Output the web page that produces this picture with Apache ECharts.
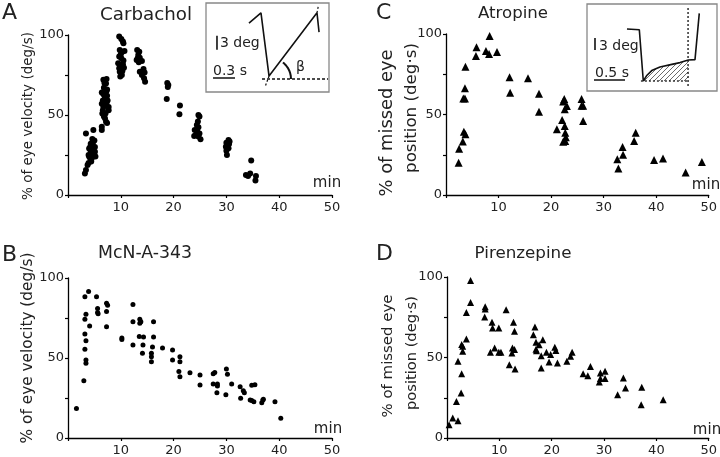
<!DOCTYPE html>
<html><head><meta charset="utf-8">
<script src="https://cdn.jsdelivr.net/npm/echarts/dist/echarts.min.js"></script>
<style>html,body{margin:0;padding:0;background:#fff}#c{width:720px;height:457px}</style>
</head><body><div id="c"></div><script>
// ---------- data ----------
const carbachol = [
 [3.2,13.5],[3.4,15.6],[3.7,18.7],[3.9,20],[3.4,38.5],[3.9,25],[4.0,24],[4.2,30],[4.3,27],[4.5,29],[4.7,32],[4.8,28],[4.9,25],[4.5,23],[5.1,30],[5.0,34],[4.8,40.6],[4.2,23],[4.7,26],[5.1,27],[4.3,32],[4.0,29],[4.6,35],[5.2,24],[4.4,21],
 [6.4,40.6],[6.4,42.7],[7.2,45.8],[7.4,45],[6.8,49],[7.1,51],[7.7,53],[6.7,55],[7.3,57],[6.6,59],[7.2,60],[7.4,62],[6.7,63],[7.3,65],[6.8,67],[7.2,69.7],[6.7,72],[7.3,72.5],[6.4,64],[7.0,48],[7.7,55],[6.6,53],[7.4,66],[6.4,57],[7.0,61],[6.9,70],[7.5,59],[6.5,51],
 [9.7,99],[10.1,97.5],[10.4,96],[10.5,94.8],[9.8,90.6],[10.3,89.6],[10.7,90],[9.7,86.5],[10.1,85.4],[9.5,82.3],[9.9,81.3],[10.4,81.7],[10.2,80.2],[9.7,79.2],[10.6,79.6],[9.8,77],[10.3,77.5],[9.9,74],[10.2,75],[10.0,88],[10.5,84],
 [13.1,90.6],[13.5,89.6],[13.3,87.5],[13.6,85.8],[13.0,84.4],[13.4,83],[14.0,83.8],[14.3,78.8],[13.6,77],[14.0,75],[14.4,73],[14.6,70.8],[13.2,85.4],[14.5,76.5],
 [18.8,70],[19.0,68.8],[18.9,67.5],[18.7,60],
 [21.2,56],[21.1,50.5],
 [24.7,50],[24.9,49],[24.4,43.8],[24.7,42.3],[24.0,40.6],[24.5,39.6],[24.9,38.5],[23.9,36.9],[24.7,36.5],[25.1,34.8],[24.2,37.5],[24.6,46],
 [30.4,34.4],[30.0,32.7],[30.5,31.9],[29.9,30.2],[30.4,29.2],[30.0,27.7],[30.1,25],[30.6,33.5],
 [34.7,21.5],[33.7,12.5],[34.1,11.9],[34.5,13.5],[35.6,11.9],[35.5,9]
];
const mcnA343 = [
 [1.6,18.5],[3.2,88.3],[3.9,91.5],[3.2,74.2],[3.4,77.3],[4.1,70],[3.2,65],[3.4,60.8],[3.2,55.4],[3.4,48.8],[3.4,46.7],[3.0,35.8],
 [5.4,88.3],[5.6,81],[5.6,78.5],[5.7,77.7],[7.3,84.2],[7.5,83],[7.3,79],[7.3,69.6],
 [10.2,62.5],[10.2,61.5],[12.3,83.5],[12.3,72.7],[12.3,58.1],[13.6,74.2],[13.6,71.7],[13.8,72.7],[13.5,63.5],[14.3,63.1],[14.2,58.1],[14.1,52.9],
 [16.2,72.7],[16.2,63.1],[16.0,56.9],[15.8,52.9],[15.8,50.8],[15.8,47.7],[17.9,56.3],[19.8,55],[19.8,48.8],
 [21.2,50.8],[21.2,47.7],[21.0,41.5],[21.2,38.3],[23.1,40.8],[25.0,39.4],[25.0,33.1],
 [27.5,40.2],[27.8,41],[27.5,33.8],[28.3,33.8],[28.3,32.5],[28.2,28.3],[30.0,43.1],[30.2,39.9],[29.9,27],[31.0,33.8],
 [32.6,32.1],[33.2,29.6],[33.4,28.3],[32.7,24.8],[34.8,32.9],[35.4,33.3],[34.5,23.8],[34.8,23.4],[35.2,22.7],
 [36.9,23.8],[36.7,22.1],[37.0,24.2],[39.2,22.7],[40.3,12.3]
];
const atropine = [
 [2.4,20.1],[2.5,28.8],[3.2,33.3],[3.4,39.3],[3.7,37.8],[3.3,60],[3.6,60],[3.6,66.3],[3.7,79.7],
 [5.7,86.3],[5.8,91.7],[7.6,89.5],[8.3,98.8],[8.2,87.6],[9.7,88.8],
 [12.1,73.1],[12.2,63.5],[15.6,72.5],[17.7,62.9],[17.7,51.7],
 [21.1,40.8],[22.1,46.6],[22.5,59.6],[22.3,58],[23.0,55.3],[22.6,53.2],[22.6,42.9],[22.7,38.7],[22.8,35.8],[22.3,33.1],[22.7,33.5],
 [25.8,59.6],[25.8,55.5],[26.1,55.5],[26.1,46],
 [32.6,22.2],[32.8,16.4],[33.6,29.8],[33.7,25],[35.8,33.5],[36.1,38.6],
 [39.6,21.8],[41.3,22.6],[45.6,13.9],[48.7,20.5]
];
const pirenzepine = [
 [0.4,8.3],[1.1,12.4],[2.1,10.7],[1.8,22.7],[2.1,47.6],[2.7,27.9],[2.8,39.9],[2.8,58],[3.0,57],[3.0,53.9],[3.7,61.5],[3.7,78],[4.5,97.9],[4.5,84.2],
 [7.3,81.5],[7.3,80.2],[7.2,75.1],[8.6,71.9],[8.7,68.4],[9.9,68.4],[8.3,53.2],[9.1,55.9],[9.9,53.2],[10.3,53.2],
 [11.3,79.7],[11.9,45.5],[12.7,71.9],[12.9,66.3],[12.5,55.9],[12.9,54.9],[12.4,52.8],[13.0,42.9],
 [16.5,64.2],[16.8,68.9],[17.0,59.4],[17.0,55.2],[17.1,54.2],[17.6,57.9],[18.3,61],[18.0,51.1],[18.0,43.5],
 [19.0,53.2],[19.8,51.8],[19.5,47.2],[20.6,56.3],[20.8,54.4],[21.1,46.6],[22.9,47.6],[23.6,50.7],[23.9,53.2],
 [26.0,39.9],[26.9,38.6],[27.4,44.4],[29.3,40.3],[29.1,34.8],[29.3,36.9],[30.2,41.4],[30.2,36.9],
 [32.6,26.9],[33.7,37.3],[34.1,31.1],[37.1,20.7],[37.2,31.5],[41.3,23.8]
];
const xTicks = [0,10,20,30,40,50];
const yTicks = [0,25,50,75,100];
const xTickLabels = ['', '10', '20', '30', '40', '50'];
const yTickLabels = ['0', '', '50', '', '100'];
const titles = ['Carbachol', 'McN-A-343', 'Atropine', 'Pirenzepine'];
const panelLetters = ['A', 'B', 'C', 'D'];

// inset A: eye trace (time s, position deg)
const insetATrace = [[0.587,14.7],[0.751,16.9],[0.861,3.4],[1.516,16.9],[1.544,12.8]];
const insetAExtLow = [[0.861,3.4],[0.806,1.07]];
const insetAExtHigh = [[1.516,16.9],[1.535,18.4]];
const insetABaseline = [[0.765,2.78],[1.667,2.78]];
const insetAScaleDeg = [[0.15,9.0],[0.15,12.0]];
const insetAScaleSec = [[0.096,3.0],[0.396,3.0]];
// inset C
const insetCTrace = [[0.645,15.5],[0.844,15.3],[0.908,2.5],[0.96,3.8],[1.044,5.1],[1.177,6.0],[1.35,6.6],[1.5,7.1],[1.634,7.75],[1.742,7.85],[1.811,19.4]];
const insetCHatch = [[0.908,2.5],[0.96,3.8],[1.044,5.1],[1.177,6.0],[1.35,6.6],[1.5,7.1],[1.634,7.75]];
const insetCVertical = [[1.63,20.75],[1.63,0.75]];
const insetCBaseline = [[0.87,2.5],[1.63,2.5]];
const insetCScaleDeg = [[0.129,10.25],[0.129,13.25]];
const insetCScaleSec = [[0.113,2.75],[0.613,2.75]];

// ---------- helpers ----------
const F = 'DejaVu Sans';
const mctx = document.createElement('canvas').getContext('2d');
function fit(text, target) { mctx.font = '100px "' + F + '"'; return 100 * target / mctx.measureText(text).width; }

const hatch = document.createElement('canvas');
hatch.width = 5; hatch.height = 5;
(function(){ const c = hatch.getContext('2d'); c.strokeStyle = '#444'; c.lineWidth = 0.8;
  c.beginPath(); c.moveTo(-1,6); c.lineTo(6,-1); c.stroke(); })();

const grids = [
  {left:68, top:35, width:264, height:160},
  {left:68, top:278, width:264, height:160},
  {left:446, top:34, width:264, height:161},
  {left:447, top:277, width:264, height:161},
  {left:206, top:3, width:123, height:89, show:true, borderColor:'#888', borderWidth:1.3, backgroundColor:'#fff'},
  {left:587, top:4, width:130, height:87, show:true, borderColor:'#888', borderWidth:1.3, backgroundColor:'#fff'}
];
const axLine = {show:true, lineStyle:{color:'#000', width:1.3}};
const xAxes = [], yAxes = [];
for (let i = 0; i < 4; i++) {
  xAxes.push({gridIndex:i, type:'value', min:xTicks[0], max:xTicks[xTicks.length-1], interval:xTicks[1]-xTicks[0],
    axisLine:axLine, axisTick:{show:true, length:3, lineStyle:{color:'#000', width:1.2}},
    axisLabel:{fontSize:13, fontFamily:F, color:'#222', margin:6, formatter:v => xTickLabels[xTicks.indexOf(v)] || ''},
    splitLine:{show:false}});
  yAxes.push({gridIndex:i, type:'value', min:yTicks[0], max:yTicks[yTicks.length-1], interval:yTicks[1]-yTicks[0],
    axisLine:axLine, axisTick:{show:true, length:3, lineStyle:{color:'#000', width:1.2}},
    axisLabel:{fontSize:13, fontFamily:F, color:'#222', margin:4, formatter:v => yTickLabels[yTicks.indexOf(v)] || ''},
    splitLine:{show:false}});
}
xAxes.push({gridIndex:4, type:'value', min:0, max:1.68, show:false});
yAxes.push({gridIndex:4, type:'value', min:0, max:19, show:false});
xAxes.push({gridIndex:5, type:'value', min:0, max:2.097, show:false});
yAxes.push({gridIndex:5, type:'value', min:0, max:21.75, show:false});

function sc(i, data, symbol, size) {
  return {type:'scatter', xAxisIndex:i, yAxisIndex:i, data, symbol, symbolSize:size,
    itemStyle:{color:'#000', opacity:1}, silent:true};
}
function ln(i, data, width, dash, extra) {
  return Object.assign({type:'line', xAxisIndex:i, yAxisIndex:i, data, symbol:'none', silent:true,
    lineStyle:{color:'#111', width, type:dash || 'solid'}}, extra || {});
}

// arc for beta in inset A (centre at vertex on baseline)
const arcPts = [];
for (let a = 0; a <= 52; a += 4) {
  const r = a * Math.PI / 180;
  arcPts.push([0.874 + (21/73.2) * Math.cos(r), 2.78 + (21/4.68) * Math.sin(r)]);
}

const series = [
  sc(0, carbachol, 'circle', 6),
  sc(1, mcnA343, 'circle', 5),
  sc(2, atropine, 'triangle', 8),
  sc(3, pirenzepine, 'triangle', 7),
  ln(4, insetATrace, 1.6),
  ln(4, insetAExtLow, 1.2, [2,2]),
  ln(4, insetAExtHigh, 1.2, [2,2]),
  ln(4, insetABaseline, 1.3, [3,2]),
  ln(4, insetAScaleDeg, 1.6),
  ln(4, insetAScaleSec, 1.6),
  ln(4, arcPts, 2),
  ln(5, insetCHatch, 0, 'solid', {areaStyle:{color:{image:hatch, repeat:'repeat'}, origin:2.5, opacity:1}}),
  ln(5, insetCTrace, 1.6),
  ln(5, insetCVertical, 1.3, [2,2]),
  ln(5, insetCBaseline, 1.3, [2,2]),
  ln(5, insetCScaleDeg, 1.6),
  ln(5, insetCScaleSec, 1.6)
];

function T(text, x, y, size, align, extra) {
  return Object.assign({type:'text', x, y, silent:true, z:100,
    style:{text, fontSize:size, fontFamily:F, fill:'#222', align:align || 'left', verticalAlign:'middle'}}, extra || {});
}
function R(text, x, y, len) {
  return T(text, x, y, fit(text, len), 'center', {rotation:Math.PI/2});
}
const graphic = [
  T(panelLetters[0], 2, 13, 22), T(panelLetters[1], 2, 255, 22), T(panelLetters[2], 376, 13, 22), T(panelLetters[3], 376, 254, 22),
  T(titles[0], 146, 15, fit(titles[0], 92), 'center'),
  T(titles[1], 145, 254, fit(titles[1], 94), 'center'),
  T(titles[2], 513, 14, fit(titles[2], 70), 'center'),
  T(titles[3], 523, 254, fit(titles[3], 97), 'center'),
  T('min', 327, 183, 15, 'center'), T('min', 328, 429, 15, 'center'),
  T('min', 706, 185, 15, 'center'), T('min', 707, 430, 15, 'center'),
  R('% of eye velocity (deg/s)', 28, 116, 168),
  R('% of eye velocity (deg/s)', 28, 348, 191),
  R('% of missed eye', 387, 123, 147), R('position (deg·s)', 412, 108, 130),
  R('% of missed eye', 388, 356, 123), R('position (deg·s)', 412, 353, 114),
  T('3 deg', 220, 43, 14), T('0.3 s', 213, 71, 14), T('β', 296, 67, 14),
  T('3 deg', 599, 46, 14), T('0.5 s', 595, 73, 14)
];

const chart = echarts.init(document.getElementById('c'), null, {renderer:'canvas'});
chart.setOption({animation:false, backgroundColor:'#fff', grid:grids, xAxis:xAxes, yAxis:yAxes, series, graphic});
</script></body></html>
